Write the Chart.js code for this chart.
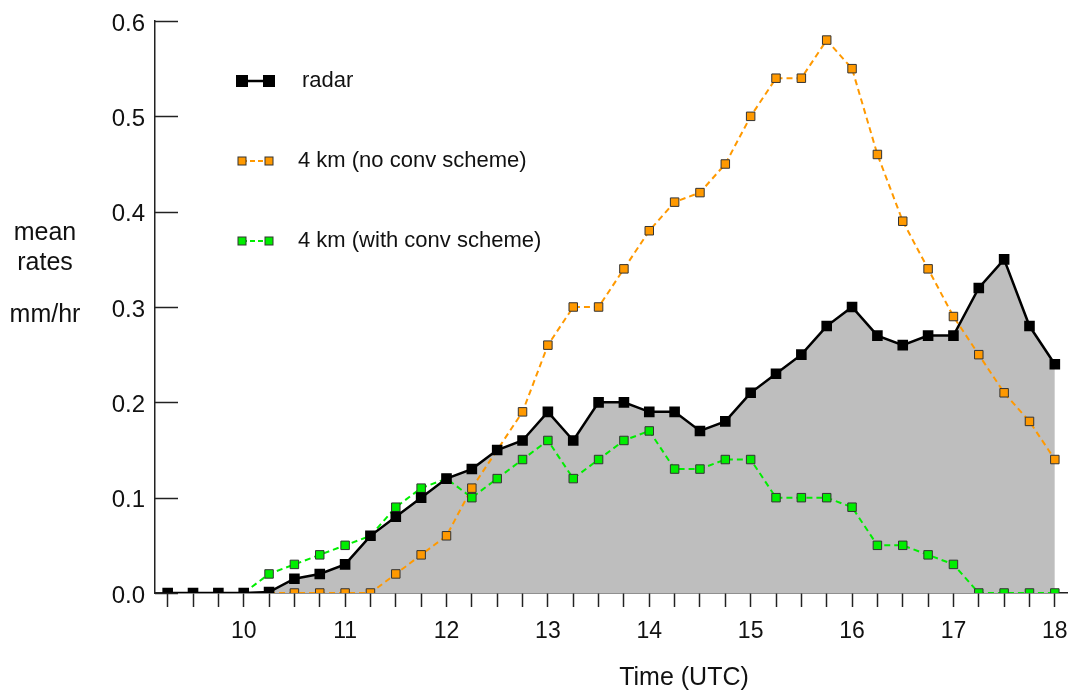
<!DOCTYPE html>
<html>
<head>
<meta charset="utf-8">
<script src="https://cdn.jsdelivr.net/npm/chart.js@4.4.1/dist/chart.umd.min.js"></script>
<style>
  html, body { margin: 0; padding: 0; background: #fff; }
  #wrap { width: 1075px; height: 690px; }
</style>
</head>
<body>
<div id="wrap"><canvas id="rates" width="1075" height="690"></canvas></div>
<script>
// time of each sample (UTC hours, every 15 min)
var times = [9.25, 9.5, 9.75, 10, 10.25, 10.5, 10.75, 11, 11.25, 11.5, 11.75, 12,
             12.25, 12.5, 12.75, 13, 13.25, 13.5, 13.75, 14, 14.25, 14.5, 14.75, 15,
             15.25, 15.5, 15.75, 16, 16.25, 16.5, 16.75, 17, 17.25, 17.5, 17.75, 18];

var radar = [0, 0, 0, 0, 0.001, 0.015, 0.02, 0.03, 0.06, 0.08, 0.1, 0.12,
             0.13, 0.15, 0.16, 0.19, 0.16, 0.2, 0.2, 0.19, 0.19, 0.17, 0.18, 0.21,
             0.23, 0.25, 0.28, 0.3, 0.27, 0.26, 0.27, 0.27, 0.32, 0.35, 0.28, 0.24];

var noConv = [null, null, null, null, 0, 0, 0, 0, 0, 0.02, 0.04, 0.06,
              0.11, 0.15, 0.19, 0.26, 0.3, 0.3, 0.34, 0.38, 0.41, 0.42, 0.45, 0.5,
              0.54, 0.54, 0.58, 0.55, 0.46, 0.39, 0.34, 0.29, 0.25, 0.21, 0.18, 0.14];

var withConv = [null, null, null, 0, 0.02, 0.03, 0.04, 0.05, 0.06, 0.09, 0.11, 0.12,
                0.1, 0.12, 0.14, 0.16, 0.12, 0.14, 0.16, 0.17, 0.13, 0.13, 0.14, 0.14,
                0.1, 0.1, 0.1, 0.09, 0.05, 0.05, 0.04, 0.03, 0, 0, 0, 0];

var xLabels = [10, 11, 12, 13, 14, 15, 16, 17, 18];
var yTicks = [0, 0.1, 0.2, 0.3, 0.4, 0.5, 0.6];

var seriesNames = ['radar', '4 km (no conv scheme)', '4 km (with conv scheme)'];

var ORANGE = '#ff9900';
var GREEN = '#00ee00';
var FONT = '"Liberation Sans", Arial, sans-serif';

function pts(ys) {
  return times.map(function (t, i) { return { x: t, y: ys[i] }; });
}

// text labels, inward y ticks and the hand-placed legend
var extras = {
  id: 'extras',
  afterDraw: function (chart) {
    var c = chart.ctx;
    var y = chart.scales.y;
    var area = chart.chartArea;
    c.save();

    // y ticks pointing into the plot
    c.strokeStyle = '#222';
    c.lineWidth = 1.5;
    yTicks.forEach(function (v) {
      var py = Math.round(y.getPixelForValue(v)) + 0.5;
      c.beginPath();
      c.moveTo(area.left, py);
      c.lineTo(area.left + 23, py);
      c.stroke();
    });

    c.fillStyle = '#111';
    c.font = '25px ' + FONT;
    c.textAlign = 'center';
    c.textBaseline = 'alphabetic';
    c.fillText('mean', 45, 240);
    c.fillText('rates', 45, 270);
    c.fillText('mm/hr', 45, 322);
    c.fillText('Time (UTC)', 684, 685);

    // legend
    var rows = [
      { y: 81, color: '#000', size: 11, dash: [], lw: 2.5, border: '#000', tx: 302 },
      { y: 161, color: ORANGE, size: 8, dash: [5, 3], lw: 2, border: '#333', tx: 298 },
      { y: 241, color: GREEN, size: 8, dash: [5, 3], lw: 2, border: '#333', tx: 298 }
    ];
    c.font = '22px ' + FONT;
    c.textAlign = 'left';
    c.textBaseline = 'middle';
    rows.forEach(function (r, i) {
      c.strokeStyle = r.color;
      c.lineWidth = r.lw;
      c.setLineDash(r.dash);
      c.beginPath();
      c.moveTo(242, r.y);
      c.lineTo(269, r.y);
      c.stroke();
      c.setLineDash([]);
      [242, 269].forEach(function (mx) {
        c.fillStyle = r.color;
        c.fillRect(mx - r.size / 2, r.y - r.size / 2, r.size, r.size);
        c.strokeStyle = r.border;
        c.lineWidth = 1;
        c.strokeRect(mx - r.size / 2, r.y - r.size / 2, r.size, r.size);
      });
      c.fillStyle = '#111';
      c.fillText(seriesNames[i], r.tx, r.y);
    });
    c.restore();
  }
};

var ctx = document.getElementById('rates').getContext('2d');
var chart = new Chart(ctx, {
  type: 'line',
  data: {
    datasets: [{
      label: seriesNames[0],
      data: pts(radar),
      borderColor: '#000',
      borderWidth: 2.5,
      backgroundColor: '#bebebe',
      fill: 'origin',
      pointStyle: 'rect',
      pointRadius: 7.5,
      pointBackgroundColor: '#000',
      pointBorderColor: '#000',
      pointBorderWidth: 0,
      order: 0
    }, {
      label: seriesNames[1],
      data: pts(noConv),
      borderColor: ORANGE,
      borderWidth: 2,
      borderDash: [6, 4],
      fill: false,
      pointStyle: 'rect',
      pointRadius: 6,
      pointBackgroundColor: ORANGE,
      pointBorderColor: '#333',
      pointBorderWidth: 1,
      order: 2
    }, {
      label: seriesNames[2],
      data: pts(withConv),
      borderColor: GREEN,
      borderWidth: 2,
      borderDash: [6, 4],
      fill: false,
      pointStyle: 'rect',
      pointRadius: 6,
      pointBackgroundColor: GREEN,
      pointBorderColor: '#333',
      pointBorderWidth: 1,
      order: 1
    }]
  },
  options: {
    responsive: false,
    animation: false,
    layout: { padding: { left: 0, right: 3, top: 21, bottom: 0 } },
    plugins: {
      legend: { display: false },
      tooltip: { enabled: false },
      filler: { drawTime: 'beforeDatasetsDraw' }
    },
    scales: {
      x: {
        type: 'linear',
        min: 9.125,
        max: 18.125,
        afterBuildTicks: function (scale) {
          scale.ticks = times.map(function (t) { return { value: t }; });
        },
        afterFit: function (scale) {
          scale.height = 97;
          scale.paddingLeft = 0;
          scale.paddingRight = 0;
        },
        ticks: {
          autoSkip: false,
          maxRotation: 0,
          padding: 11,
          color: '#111',
          font: { family: FONT, size: 23 },
          callback: function (v) {
            return xLabels.indexOf(v) >= 0 ? String(v) : '';
          }
        },
        grid: {
          drawOnChartArea: false,
          drawTicks: true,
          tickLength: 14,
          tickWidth: 1.5,
          tickColor: '#222'
        },
        border: { color: '#222', width: 1.5 }
      },
      y: {
        min: 0,
        max: 0.6,
        afterBuildTicks: function (scale) {
          scale.ticks = yTicks.map(function (v) { return { value: v }; });
        },
        afterFit: function (scale) {
          scale.width = 155;
          scale.paddingTop = 0;
          scale.paddingBottom = 0;
        },
        ticks: {
          padding: 10,
          labelOffset: 3,
          color: '#111',
          font: { family: FONT, size: 24 },
          callback: function (v) { return v.toFixed(1); }
        },
        grid: { drawOnChartArea: false, drawTicks: false },
        border: { color: '#222', width: 1.5 }
      }
    }
  },
  plugins: [extras]
});
</script>
</body>
</html>
